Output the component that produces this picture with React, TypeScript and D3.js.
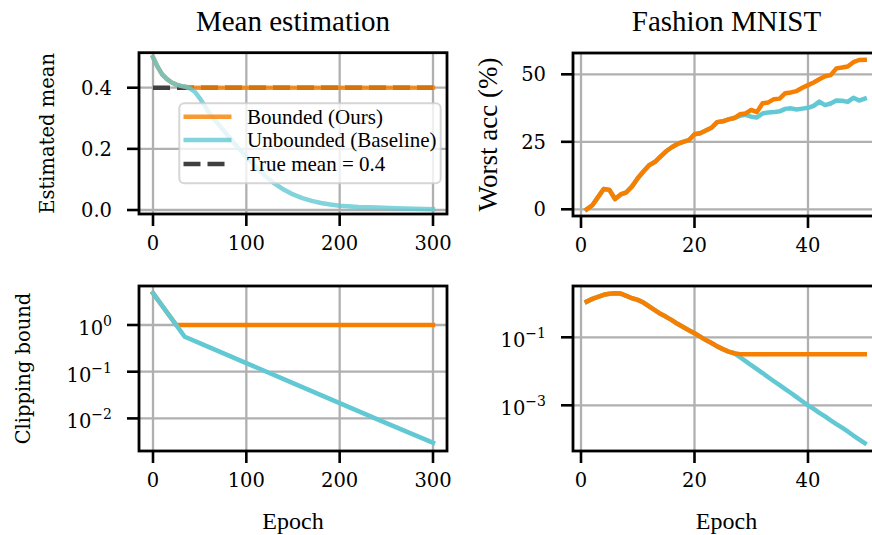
import React from "react";
import * as d3 from "d3";

// ---- Mean estimation: estimated mean per epoch ----
const meanEpochs = [0, 5, 10, 15, 20, 25, 30, 35, 40, 45, 50, 55, 60, 70, 80, 90, 100, 110, 120, 130, 140, 150, 160, 170, 180, 190, 200, 220, 240, 260, 280, 300];
const meanBounded = [0.5, 0.468, 0.443, 0.428, 0.417, 0.41, 0.406, 0.403, 0.401, 0.4, 0.4, 0.4, 0.4, 0.4, 0.4, 0.4, 0.4, 0.4, 0.4, 0.4, 0.4, 0.4, 0.4, 0.4, 0.4, 0.4, 0.4, 0.4, 0.4, 0.4, 0.4, 0.4];
const meanUnbounded = [0.5, 0.468, 0.443, 0.428, 0.417, 0.41, 0.406, 0.403, 0.397, 0.386, 0.366, 0.343, 0.318, 0.281, 0.244, 0.208, 0.174, 0.141, 0.112, 0.087, 0.067, 0.051, 0.039, 0.03, 0.023, 0.018, 0.014, 0.01, 0.008, 0.006, 0.004, 0.003];
const trueMean = 0.4;
const meanRange = [0, 300];

// ---- Mean estimation: clipping bound per epoch ----
const clipEpochs = [0, 10, 20, 25, 30, 34, 50, 100, 150, 200, 250, 300];
const clipBounded = [4.8, 2.55, 1.36, 1.0, 1.0, 1.0, 1.0, 1.0, 1.0, 1.0, 1.0, 1.0];
const clipUnbounded = [4.8, 2.55, 1.36, 0.99, 0.72, 0.56, 0.41, 0.153, 0.057, 0.0212, 0.0079, 0.003];

// ---- Fashion MNIST ----
const fmEpochs = [1, 2, 3, 4, 5, 6, 7, 8, 9, 10, 11, 12, 13, 14, 15, 16, 17, 18, 19, 20, 21, 22, 23, 24, 25, 26, 27, 28, 29, 30, 31, 32, 33, 34, 35, 36, 37, 38, 39, 40, 41, 42, 43, 44, 45, 46, 47, 48, 49, 50];
const fmAccBounded = [0.0, 1.5, 4.5, 7.5, 7.2, 3.8, 5.5, 6.3, 8.5, 11.5, 14.0, 16.3, 17.5, 19.5, 21.5, 23.0, 24.2, 25.0, 25.6, 27.8, 28.2, 29.2, 30.2, 32.3, 32.6, 33.3, 33.8, 35.2, 35.5, 36.8, 36.0, 39.3, 39.6, 40.8, 41.0, 43.0, 43.3, 43.8, 45.0, 46.0, 47.0, 48.2, 49.3, 49.7, 52.2, 52.5, 52.9, 54.5, 55.3, 55.4];
const fmAccUnbounded = [0.0, 1.5, 4.5, 7.5, 7.2, 3.8, 5.5, 6.3, 8.5, 11.5, 14.0, 16.3, 17.5, 19.5, 21.5, 23.0, 24.2, 25.0, 25.6, 27.8, 28.2, 29.2, 30.2, 32.3, 32.6, 33.3, 33.8, 34.6, 35.0, 34.3, 34.0, 35.5, 35.9, 36.0, 36.3, 37.2, 37.4, 37.0, 37.3, 37.6, 38.3, 39.9, 38.6, 39.2, 40.3, 40.2, 39.8, 41.3, 40.3, 41.0];
const fmClipBounded = [1.12, 1.35, 1.55, 1.78, 1.91, 1.97, 1.93, 1.66, 1.41, 1.26, 1.05, 0.81, 0.63, 0.49, 0.4, 0.32, 0.25, 0.2, 0.162, 0.132, 0.105, 0.083, 0.068, 0.054, 0.045, 0.038, 0.034, 0.032, 0.032, 0.032, 0.032, 0.032, 0.032, 0.032, 0.032, 0.032, 0.032, 0.032, 0.032, 0.032, 0.032, 0.032, 0.032, 0.032, 0.032, 0.032, 0.032, 0.032, 0.032, 0.032];
const fmClipUnbounded = [1.12, 1.35, 1.55, 1.78, 1.91, 1.97, 1.93, 1.66, 1.41, 1.26, 1.05, 0.81, 0.63, 0.49, 0.4, 0.32, 0.25, 0.2, 0.162, 0.132, 0.105, 0.083, 0.068, 0.054, 0.045, 0.038, 0.034, 0.026, 0.02, 0.0151, 0.0116, 0.0089, 0.0067, 0.0051, 0.0039, 0.003, 0.0023, 0.00174, 0.00132, 0.001, 0.00078, 0.0006, 0.00047, 0.00036, 0.00028, 0.00022, 0.00017, 0.000129, 0.0001, 0.0000776];

// ---- Tick values and labels ----
const meanXTicks = [0, 100, 200, 300];
const fmXTicks = [0, 20, 40];
const meanYTicks = [0.0, 0.2, 0.4];
const accYTicks = [0, 25, 50];
const clipYExps = [0, -1, -2];
const fmClipYExps = [-1, -3];

const titles = ["Mean estimation", "Fashion MNIST"];
const legendLabels = ["Bounded (Ours)", "Unbounded (Baseline)", `True mean = ${trueMean}`];

// ---- Styling ----
const ORANGE = "#f77f00";
const BLUE = "#62c8d3";
const DARK = "#404040";
const GRID = "#b0b0b0";
const SERIF = "'Liberation Serif', 'Times New Roman', serif";
const MATH = "'DejaVu Serif', serif";
const LW = 4.5;

type Frame = { x0: number; x1: number; y0: number; y1: number };

const fLeft: Frame = { x0: 139, x1: 447, y0: 52.7, y1: 214 };
const fRight: Frame = { x0: 573, x1: 880, y0: 53, y1: 216 };
const fLeftB: Frame = { x0: 139, x1: 447, y0: 286, y1: 451 };
const fRightB: Frame = { x0: 573, x1: 880, y0: 286, y1: 451 };

const xMean = d3.scaleLinear().domain([-15, 315]).range([fLeft.x0, fLeft.x1]);
const xFm = d3.scaleLinear().domain([-1.41, 52.69]).range([fRight.x0, fRight.x1]);
const yMean = d3.scaleLinear().domain([-0.013, 0.5145]).range([fLeft.y1, fLeft.y0]);
const yAcc = d3.scaleLinear().domain([-2.48, 57.9]).range([fRight.y1, fRight.y0]);
const yClip = d3.scaleLog().domain([Math.pow(10, -2.698), Math.pow(10, 0.835)]).range([fLeftB.y1, fLeftB.y0]);
const yFmClip = d3.scaleLog().domain([Math.pow(10, -4.344), Math.pow(10, 0.509)]).range([fRightB.y1, fRightB.y0]);

type Series = { xs: number[]; ys: number[]; color: string; opacity?: number; dash?: string };

function Panel(props: {
  id: string;
  f: Frame;
  x: d3.ScaleLinear<number, number>;
  y: (v: number) => number;
  xTicks: number[];
  yTicks: { v: number; label: React.ReactNode; log?: boolean }[];
  series: Series[];
  children?: React.ReactNode;
}) {
  const { id, f, x, y, xTicks, yTicks, series } = props;
  const clipId = `clip-${id}`;
  return (
    <g>
      <defs>
        <clipPath id={clipId}>
          <rect x={f.x0} y={f.y0} width={f.x1 - f.x0} height={f.y1 - f.y0} />
        </clipPath>
      </defs>
      <rect x={f.x0} y={f.y0} width={f.x1 - f.x0} height={f.y1 - f.y0} fill="#fff" />
      {/* grid */}
      {xTicks.map((t) => (
        <line key={`gx${t}`} x1={x(t)} x2={x(t)} y1={f.y0} y2={f.y1} stroke={GRID} strokeWidth={2.3} />
      ))}
      {yTicks.map((t) => (
        <line key={`gy${t.v}`} x1={f.x0} x2={f.x1} y1={y(t.v)} y2={y(t.v)} stroke={GRID} strokeWidth={2.3} />
      ))}
      {/* series */}
      <g clipPath={`url(#${clipId})`}>
        {series.map((s, i) => {
          const gen = d3
            .line<number>()
            .x((_, j) => x(s.xs[j]))
            .y((v) => y(v));
          return (
            <path
              key={i}
              d={gen(s.ys) || ""}
              fill="none"
              stroke={s.color}
              strokeWidth={LW}
              strokeOpacity={s.opacity ?? 1}
              strokeDasharray={s.dash}
              strokeLinejoin="round"
              strokeLinecap={s.dash ? "butt" : "square"}
            />
          );
        })}
      </g>
      {props.children}
      {/* frame */}
      <rect x={f.x0} y={f.y0} width={f.x1 - f.x0} height={f.y1 - f.y0} fill="none" stroke="#000" strokeWidth={2.8} />
      {/* x ticks */}
      {xTicks.map((t) => (
        <g key={`tx${t}`}>
          <line x1={x(t)} x2={x(t)} y1={f.y1} y2={f.y1 + 12} stroke="#000" strokeWidth={2.6} />
          <text x={x(t)} y={f.y1 + 36} textAnchor="middle" fontFamily={MATH} fontSize={19.5} fill="#000">
            {t}
          </text>
        </g>
      ))}
      {/* y ticks */}
      {yTicks.map((t) => (
        <g key={`ty${t.v}`}>
          <line x1={f.x0 - 12} x2={f.x0} y1={y(t.v)} y2={y(t.v)} stroke="#000" strokeWidth={2.6} />
          <text x={f.x0 - 27} y={y(t.v) + (t.log ? 10 : 7)} textAnchor="end" fontFamily={MATH} fontSize={19.5} fill="#000">
            {t.label}
          </text>
        </g>
      ))}
    </g>
  );
}

function Pow10({ e }: { e: number }) {
  return (
    <>
      10
      <tspan dy={-9} fontSize={14}>
        {e === 0 ? "0" : `\u2212${Math.abs(e)}`}
      </tspan>
    </>
  );
}

function Legend() {
  const bx = 179.3, by = 103.3, bw = 261.4, bh = 80;
  const rows = [116.7, 140, 164];
  const styles = [
    { color: ORANGE, dash: undefined as string | undefined, opacity: 0.8 },
    { color: BLUE, dash: undefined, opacity: 0.8 },
    { color: DARK, dash: "17 7", opacity: 1 },
  ];
  return (
    <g>
      <rect x={bx} y={by} width={bw} height={bh} rx={5} fill="#fff" fillOpacity={0.8} stroke="#cccccc" strokeOpacity={0.8} strokeWidth={2} />
      {legendLabels.map((lab, i) => (
        <g key={lab}>
          <line x1={183.5} x2={231.5} y1={rows[i]} y2={rows[i]} stroke={styles[i].color} strokeOpacity={styles[i].opacity} strokeWidth={LW} strokeDasharray={styles[i].dash} />
          <text x={247} y={rows[i] + 7} fontFamily={SERIF} fontSize={21} fill="#000">
            {lab}
          </text>
        </g>
      ))}
    </g>
  );
}

export default function App() {
  const midL = (fLeft.x0 + fLeft.x1) / 2;
  const midR = (fRight.x0 + fRight.x1) / 2;
  return (
    <svg width={872} height={535} style={{ position: "absolute", left: 0, top: 0, background: "#fff" }}>
      <rect width={872} height={535} fill="#fff" />
      <Panel
        id="mean"
        f={fLeft}
        x={xMean}
        y={yMean}
        xTicks={meanXTicks}
        yTicks={meanYTicks.map((v) => ({ v, label: v.toFixed(1) }))}
        series={[
          { xs: meanRange, ys: [trueMean, trueMean], color: DARK, dash: "17 7" },
          { xs: meanEpochs, ys: meanBounded, color: ORANGE, opacity: 0.8 },
          { xs: meanEpochs, ys: meanUnbounded, color: BLUE, opacity: 0.8 },
        ]}
      >
        <Legend />
      </Panel>
      <Panel
        id="acc"
        f={fRight}
        x={xFm}
        y={yAcc}
        xTicks={fmXTicks}
        yTicks={accYTicks.map((v) => ({ v, label: String(v) }))}
        series={[
          { xs: fmEpochs, ys: fmAccUnbounded, color: BLUE },
          { xs: fmEpochs, ys: fmAccBounded, color: ORANGE },
        ]}
      />
      <Panel
        id="clip"
        f={fLeftB}
        x={xMean}
        y={yClip}
        xTicks={meanXTicks}
        yTicks={clipYExps.map((e) => ({ v: Math.pow(10, e), label: <Pow10 e={e} />, log: true }))}
        series={[
          { xs: clipEpochs, ys: clipBounded, color: ORANGE },
          { xs: clipEpochs, ys: clipUnbounded, color: BLUE },
        ]}
      />
      <Panel
        id="fmclip"
        f={fRightB}
        x={xFm}
        y={yFmClip}
        xTicks={fmXTicks}
        yTicks={fmClipYExps.map((e) => ({ v: Math.pow(10, e), label: <Pow10 e={e} />, log: true }))}
        series={[
          { xs: fmEpochs, ys: fmClipUnbounded, color: BLUE },
          { xs: fmEpochs, ys: fmClipBounded, color: ORANGE },
        ]}
      />
      {/* titles */}
      <text x={midL} y={31} textAnchor="middle" fontFamily={SERIF} fontSize={29} fill="#000">
        {titles[0]}
      </text>
      <text x={midR} y={31} textAnchor="middle" fontFamily={SERIF} fontSize={29} fill="#000">
        {titles[1]}
      </text>
      {/* axis labels */}
      <text transform={`translate(54, ${(fLeft.y0 + fLeft.y1) / 2}) rotate(-90)`} textAnchor="middle" fontFamily={MATH} fontSize={19.5} fill="#000">
        Estimated mean
      </text>
      <text transform={`translate(30, ${(fLeftB.y0 + fLeftB.y1) / 2}) rotate(-90)`} textAnchor="middle" fontFamily={MATH} fontSize={19.5} fill="#000">
        Clipping bound
      </text>
      <text transform={`translate(497, ${(fRight.y0 + fRight.y1) / 2}) rotate(-90)`} textAnchor="middle" fontFamily={SERIF} fontSize={27} fill="#000">
        Worst acc (%)
      </text>
      <text x={midL} y={529} textAnchor="middle" fontFamily={SERIF} fontSize={24} fill="#000">
        Epoch
      </text>
      <text x={midR} y={529} textAnchor="middle" fontFamily={SERIF} fontSize={24} fill="#000">
        Epoch
      </text>
    </svg>
  );
}
